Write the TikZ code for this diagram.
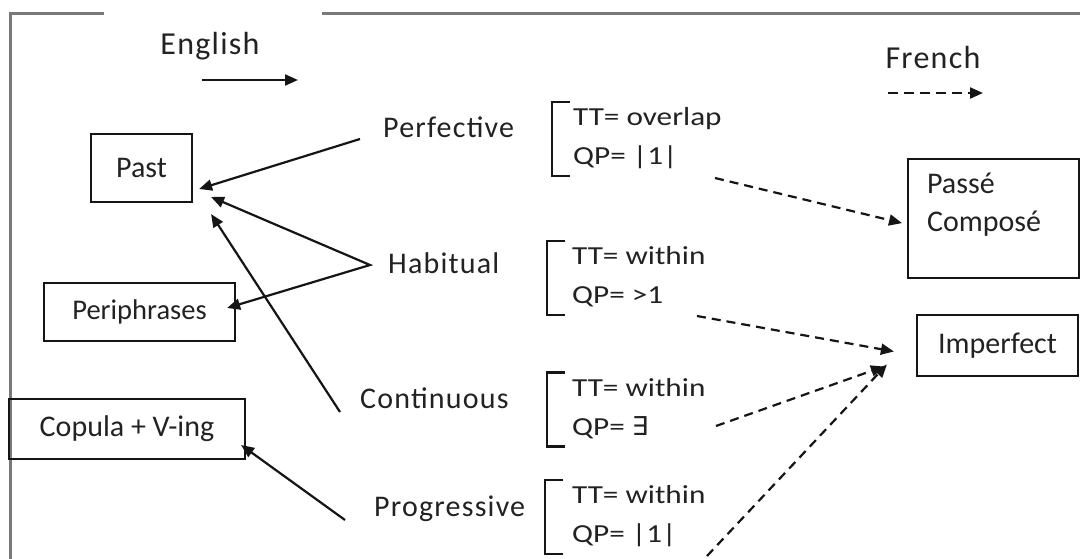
\documentclass[tikz,border=0pt]{standalone}
\usepackage{fontspec}
\setmainfont{Carlito}
\newfontfamily\aspectfont[LetterSpace=4]{Carlito}
\newfontfamily\featfont[FakeStretch=1.2]{Carlito}
\newfontfamily\symfont{DejaVu Sans}
\usetikzlibrary{arrows.meta,positioning}
\definecolor{frameGray}{HTML}{7A7A7A}
\definecolor{lineDark}{HTML}{151515}
\definecolor{textDark}{HTML}{222222}

\begin{document}
\begin{tikzpicture}[x=1pt, y=-1pt, every node/.style={text=textDark},
  box/.style={draw=lineDark, line width=2.2pt, inner sep=0pt,
              font=\fontsize{30}{36}\selectfont},
  aspect/.style={anchor=west, inner sep=0pt, font=\aspectfont\fontsize{30}{36}\selectfont},
  feat/.style={anchor=west, inner sep=0pt, align=left,
               font=\featfont\fontsize{26}{39}\selectfont},
  arr/.style={-{Triangle[length=13pt,width=11pt]}, line width=2.2pt, draw=lineDark},
  both/.style={{Triangle[length=13pt,width=11pt]}-{Triangle[length=13pt,width=11pt]},
               line width=2.2pt, draw=lineDark},
  darr/.style={arr, dash pattern=on 9pt off 6pt},
  brk/.style={line width=2.2pt, draw=lineDark}]
\useasboundingbox (0,0) rectangle (1080,559);
% frame, open at the top left
\draw[frameGray, line width=3pt] (104,14) -- (10.5,14) -- (10.5,559);
\draw[frameGray, line width=3pt] (322,14) -- (1080,14);
% legend
\node[font=\aspectfont\fontsize{32}{38}\selectfont] (english) at (210,46) {English};
\coordinate (engStart) at (202,80);
\coordinate (engEnd) at (298,80);
\draw[arr] (engStart) -- (engEnd);
\node[font=\aspectfont\fontsize{32}{38}\selectfont] (french) at (933,58) {French};
\coordinate (frStart) at (888,93);
\coordinate (frEnd) at (983,93);
\draw[darr, dash pattern=on 10pt off 6pt] (frStart) -- (frEnd);
% English forms
\node[box, minimum width=101pt, minimum height=68pt] (past) at (141.5,168) {Past};
\node[box, minimum width=191pt, minimum height=58pt,
      font=\fontsize{28.5}{34}\selectfont] (peri) at (139.5,312) {Periphrases};
\node[box, minimum width=236pt, minimum height=60pt] (copula) at (127,429) {Copula + V-ing};
% French forms
\node[box, anchor=north west, inner xsep=19pt, font=\fontsize{30}{38}\selectfont] (pc)
      at (907,158) {\parbox[t][119pt][t]{133pt}{\vspace*{14pt}Passé\\Composé}};
\node[box, minimum width=161pt, minimum height=61pt] (imp) at (997.5,345.5) {Imperfect};
% aspects
\node[aspect] (perf) at (383,127) {Perfective};
\node[aspect] (hab) at (388,263) {Habitual};
\node[aspect] (cont) at (360,398) {Continuous};
\node[aspect] (prog) at (374,509) {Progressive};
% features
\node[feat] (f1) at (573,138) {TT= overlap\\QP= |1|};
\node[feat] (f2) at (572,277) {TT= within\\QP= >1};
\node[feat] (f3) at (572,408.5) {TT= within\\QP= {\symfont ∃}};
\node[feat] (f4) at (572,516) {TT= within\\QP= |1|};
\foreach \f/\d in {f1/21, f2/25, f3/25, f4/27}
  \draw[brk] ([shift={(-\d+18,-36)}]\f.west) -| ([shift={(-\d,38)}]\f.west) -- ++(18,0);
% English arrows
\draw[arr] ([shift={(-23,12)}]perf.west) -- ([shift={(6,21)}]past.east);
\draw[both] ([shift={(18,29)}]past.east) -- ([shift={(-18,2)}]hab.west) -- ([shift={(-9,-4)}]peri.east);
\draw[arr] ([shift={(-20,14)}]cont.west) -- ([shift={(18,11)}]past.south east);
\draw[arr] ([shift={(-29,11)}]prog.west) -- ([shift={(-5,16)}]copula.east);
% French arrows
\draw[darr] ([shift={(142,40)}]f1.west) -- ([shift={(-5,4.5)}]pc.west);
\draw[darr] ([shift={(125,39)}]f2.west) -- ([shift={(-22,6)}]imp.west);
\draw[darr] ([shift={(144,17.5)}]f3.west) -- ([shift={(-32,21)}]imp.west);
\draw[darr] ([shift={(135,40)}]f4.west) -- ([shift={(-29,19)}]imp.west);
\end{tikzpicture}
\end{document}
